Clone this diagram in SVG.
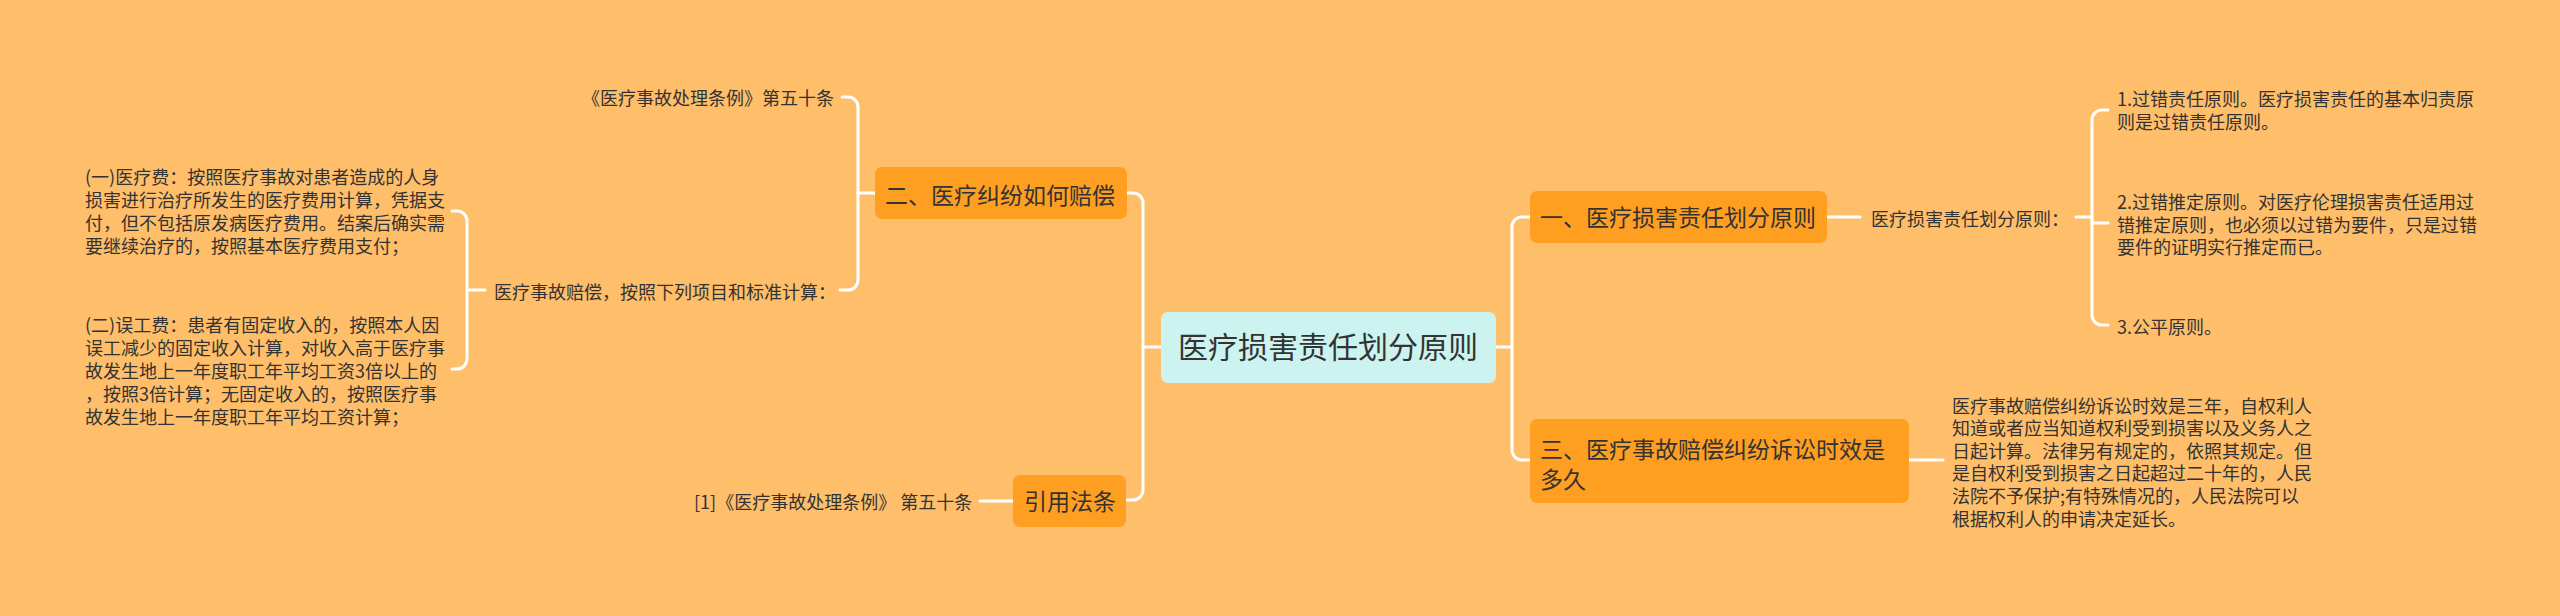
<svg xmlns="http://www.w3.org/2000/svg" width="2560" height="616" viewBox="0 0 2560 616">
<style>
.bg{fill:#FFBE69}
.node{fill:#FE9F21}
.center{fill:#CCF3EF}
.t{font-family:"Noto Sans CJK SC","Noto Sans",sans-serif;fill:#333333}
.leaf{font-size:18px}
.nt{font-size:23px}
.ct{font-size:30px}
.conn path{fill:none;stroke:#FFFFFF;stroke-width:3;stroke-linecap:round}
</style>
<rect class="bg" x="0" y="0" width="2560" height="616"/>
<g id="connectors" class="conn">
<path d="M1127 193 H1133 A10 10 0 0 1 1143 203 V490 A10 10 0 0 1 1133 500 H1126"/>
<path d="M1143 347 H1161"/>
<path d="M875 193 H858"/>
<path d="M842 97 H848 A10 10 0 0 1 858 107 V280 A10 10 0 0 1 848 290 H840"/>
<path d="M485 290 H467"/>
<path d="M452 211 H457 A10 10 0 0 1 467 221 V359 A10 10 0 0 1 457 369 H452"/>
<path d="M1013 501 H980"/>
<path d="M1496 347 H1512"/>
<path d="M1530 217 H1522 A10 10 0 0 0 1512 227 V450 A10 10 0 0 0 1522 460 H1943"/>
<path d="M1827 217 H1860"/>
<path d="M2076 217 H2092"/>
<path d="M2108 110 H2102 A10 10 0 0 0 2092 120 V315 A10 10 0 0 0 2102 325 H2108"/>
<path d="M2092 223 H2108"/>
</g>
<g id="root">
<rect class="center" x="1161" y="312" width="335" height="71" rx="7"/>
<text class="t ct" x="1328" y="358" text-anchor="middle">医疗损害责任划分原则</text>
</g>
<g id="n2">
<rect class="node" x="875" y="167" width="252" height="52" rx="7"/>
<text class="t nt" x="885" y="204">二、医疗纠纷如何赔偿</text>
</g>
<g id="n2-law">
<text class="t leaf" x="834" y="105" text-anchor="end">《医疗事故处理条例》第五十条</text>
</g>
<g id="n2-calc">
<text class="t leaf" x="494" y="299">医疗事故赔偿，按照下列项目和标准计算：</text>
</g>
<g id="n2-calc-1">
<text class="t leaf" x="85" y="184">(一)医疗费：按照医疗事故对患者造成的人身</text>
<text class="t leaf" x="85" y="207">损害进行治疗所发生的医疗费用计算，凭据支</text>
<text class="t leaf" x="85" y="230">付，但不包括原发病医疗费用。结案后确实需</text>
<text class="t leaf" x="85" y="253">要继续治疗的，按照基本医疗费用支付；</text>
</g>
<g id="n2-calc-2">
<text class="t leaf" x="85" y="332">(二)误工费：患者有固定收入的，按照本人因</text>
<text class="t leaf" x="85" y="355">误工减少的固定收入计算，对收入高于医疗事</text>
<text class="t leaf" x="85" y="378">故发生地上一年度职工年平均工资3倍以上的</text>
<text class="t leaf" x="85" y="401">，按照3倍计算；无固定收入的，按照医疗事</text>
<text class="t leaf" x="85" y="424">故发生地上一年度职工年平均工资计算；</text>
</g>
<g id="cite">
<rect class="node" x="1013" y="475" width="113" height="52" rx="7"/>
<text class="t nt" x="1024" y="510">引用法条</text>
</g>
<g id="cite-1">
<text class="t leaf" x="694" y="509">[1]《医疗事故处理条例》 第五十条</text>
</g>
<g id="n1">
<rect class="node" x="1530" y="191" width="297" height="52" rx="7"/>
<text class="t nt" x="1540" y="226">一、医疗损害责任划分原则</text>
</g>
<g id="n1-label">
<text class="t leaf" x="1871" y="226">医疗损害责任划分原则：</text>
</g>
<g id="n1-a">
<text class="t leaf" x="2117" y="106">1.过错责任原则。医疗损害责任的基本归责原</text>
<text class="t leaf" x="2117" y="129">则是过错责任原则。</text>
</g>
<g id="n1-b">
<text class="t leaf" x="2117" y="209">2.过错推定原则。对医疗伦理损害责任适用过</text>
<text class="t leaf" x="2117" y="231.5">错推定原则，也必须以过错为要件，只是过错</text>
<text class="t leaf" x="2117" y="254">要件的证明实行推定而已。</text>
</g>
<g id="n1-c">
<text class="t leaf" x="2117" y="334">3.公平原则。</text>
</g>
<g id="n3">
<rect class="node" x="1530" y="419" width="379" height="84" rx="7"/>
<text class="t nt" x="1540" y="458">三、医疗事故赔偿纠纷诉讼时效是</text>
<text class="t nt" x="1540" y="488">多久</text>
</g>
<g id="n3-text">
<text class="t leaf" x="1952" y="412.5">医疗事故赔偿纠纷诉讼时效是三年，自权利人</text>
<text class="t leaf" x="1952" y="435">知道或者应当知道权利受到损害以及义务人之</text>
<text class="t leaf" x="1952" y="457.5">日起计算。法律另有规定的，依照其规定。但</text>
<text class="t leaf" x="1952" y="480">是自权利受到损害之日起超过二十年的，人民</text>
<text class="t leaf" x="1952" y="503">法院不予保护;有特殊情况的，人民法院可以</text>
<text class="t leaf" x="1952" y="525.5">根据权利人的申请决定延长。</text>
</g>
</svg>
